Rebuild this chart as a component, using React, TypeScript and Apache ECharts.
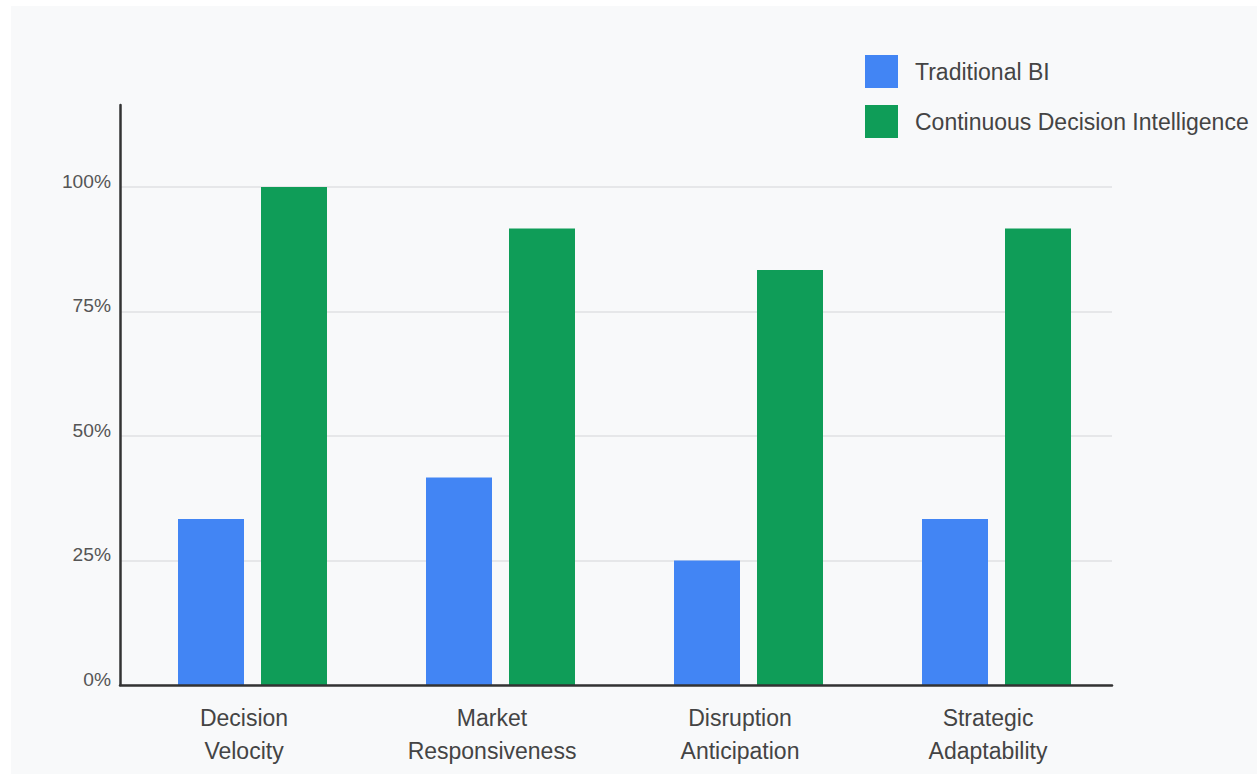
import React, { useEffect, useRef } from "react";
import * as echarts from "echarts";

const categories = [
  "Decision Velocity",
  "Market Responsiveness",
  "Disruption Anticipation",
  "Strategic Adaptability",
];
const seriesNames = ["Traditional BI", "Continuous Decision Intelligence"];
const traditionalBI = [33.33, 41.67, 25, 33.33];
const continuousDI = [100, 91.67, 83.33, 91.67];
const seriesColors = ["#4285F4", "#0F9D58"];
const yTicks = [0, 25, 50, 75, 100];
const axisTopValue = 116.67;

const FONT = "'Liberation Sans', Arial, Helvetica, sans-serif";

export default function App() {
  const ref = useRef<HTMLDivElement>(null);
  useEffect(() => {
    if (!ref.current) return;
    const chart = echarts.init(ref.current, undefined, { renderer: "svg" });
    const gridLeft = 109;
    const gridWidth = 992;
    const shift = 8.5;
    chart.setOption({
      animation: false,
      backgroundColor: "#f8f9fa",
      textStyle: { fontFamily: FONT },
      legend: {
        orient: "vertical",
        left: 849,
        top: 44,
        itemWidth: 33,
        itemHeight: 33,
        itemGap: 17,
        icon: "rect",
        data: seriesNames,
        selectedMode: false,
        textStyle: {
          fontFamily: FONT,
          fontSize: 23,
          color: "#444",
          padding: [0, 0, 0, 12],
        },
      },
      grid: [
        { left: gridLeft, top: 99, width: gridWidth, height: 580 },
        { left: gridLeft, top: 181, width: gridWidth, height: 498 },
        { left: gridLeft + shift, top: 181, width: gridWidth, height: 498 },
      ],
      xAxis: [
        { type: "category", gridIndex: 0, data: categories, show: false },
        {
          type: "category",
          gridIndex: 1,
          data: categories,
          z: 5,
          axisLine: { show: true, lineStyle: { color: "#333", width: 2.5 } },
          axisTick: { show: false },
          axisLabel: {
            fontFamily: FONT,
            fontSize: 23,
            color: "#444",
            lineHeight: 33,
            margin: 16,
            interval: 0,
            formatter: (v: string) => v.replace(" ", "\n"),
          },
          splitLine: { show: false },
        },
        { type: "category", gridIndex: 2, data: categories, show: false },
      ],
      yAxis: [
        {
          type: "value",
          gridIndex: 0,
          min: 0,
          max: axisTopValue,
          axisLine: { show: true, lineStyle: { color: "#333", width: 2.5 } },
          axisTick: { show: false },
          axisLabel: { show: false },
          splitLine: { show: false },
        },
        {
          type: "value",
          gridIndex: 1,
          min: yTicks[0],
          max: yTicks[yTicks.length - 1],
          interval: yTicks[1] - yTicks[0],
          axisLine: { show: false },
          axisTick: { show: false },
          axisLabel: {
            fontFamily: FONT,
            fontSize: 19.2,
            color: "#555",
            margin: 9,
            verticalAlign: "bottom",
            lineHeight: 12,
            formatter: "{value}%",
          },
          splitLine: { show: true, lineStyle: { color: "#e6e7e9", width: 2 } },
        },
        {
          type: "value",
          gridIndex: 2,
          min: 0,
          max: 100,
          show: false,
          splitLine: { show: false },
        },
      ],
      series: [
        {
          name: seriesNames[0],
          type: "bar",
          xAxisIndex: 2,
          yAxisIndex: 2,
          data: traditionalBI,
          barWidth: 66,
          barGap: `${(17 / 66) * 100}%`,
          itemStyle: { color: seriesColors[0] },
        },
        {
          name: seriesNames[1],
          type: "bar",
          xAxisIndex: 2,
          yAxisIndex: 2,
          data: continuousDI,
          barWidth: 66,
          barGap: `${(17 / 66) * 100}%`,
          itemStyle: { color: seriesColors[1] },
        },
      ],
    });
    return () => chart.dispose();
  }, []);
  return (
    <div
      style={{
        position: "absolute",
        left: 0,
        top: 0,
        width: 1257,
        height: 774,
        background: "#ffffff",
        overflow: "hidden",
      }}
    >
      <div
        ref={ref}
        style={{ position: "absolute", left: 11, top: 6, width: 1246, height: 768 }}
      />
    </div>
  );
}
